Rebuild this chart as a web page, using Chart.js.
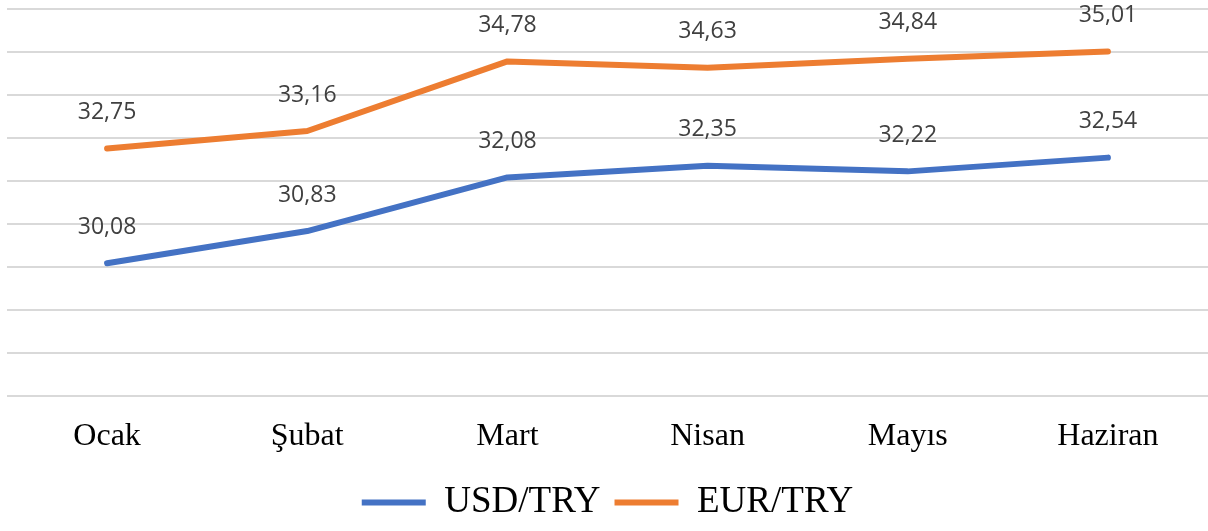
<!DOCTYPE html>
<html>
<head>
<meta charset="utf-8">
<script src="https://cdn.jsdelivr.net/npm/chart.js@4"></script>
<style>
  html, body { margin: 0; padding: 0; background: #fff; }
  #wrap { width: 1208px; height: 531px; }
</style>
</head>
<body>
<div id="wrap"><canvas id="kurChart"></canvas></div>
<script>
const months = ['Ocak', 'Şubat', 'Mart', 'Nisan', 'Mayıs', 'Haziran'];
const usdTry = [30.08, 30.83, 32.08, 32.35, 32.22, 32.54];
const eurTry = [32.75, 33.16, 34.78, 34.63, 34.84, 35.01];
const yMin = 27;
const yMax = 36;

// value labels above each point, Turkish decimal comma
const valueLabels = {
    id: 'valueLabels',
    afterDatasetsDraw(chart) {
        const c = chart.ctx;
        c.save();
        c.font = '23px "Open Sans"';
        c.fillStyle = '#404040';
        c.textAlign = 'center';
        c.textBaseline = 'middle';
        chart.data.datasets.forEach((ds, i) => {
            chart.getDatasetMeta(i).data.forEach((pt, j) => {
                c.fillText(ds.data[j].toFixed(2).replace('.', ','), pt.x, pt.y - 36);
            });
        });
        c.restore();
    }
};

new Chart(document.getElementById('kurChart'), {
    type: 'line',
    data: {
        labels: months,
        datasets: [
            {
                label: 'USD/TRY',
                data: usdTry,
                borderColor: '#4472C4',
                backgroundColor: '#4472C4',
                borderWidth: 6,
                borderCapStyle: 'round',
                borderJoinStyle: 'round',
                pointRadius: 0,
                tension: 0
            },
            {
                label: 'EUR/TRY',
                data: eurTry,
                borderColor: '#ED7D31',
                backgroundColor: '#ED7D31',
                borderWidth: 6,
                borderCapStyle: 'round',
                borderJoinStyle: 'round',
                pointRadius: 0,
                tension: 0
            }
        ]
    },
    options: {
        responsive: true,
        maintainAspectRatio: false,
        animation: false,
        layout: { padding: { left: 7, right: 0, top: 9, bottom: 0 } },
        plugins: {
            legend: {
                position: 'bottom',
                labels: {
                    usePointStyle: true,
                    pointStyle: 'line',
                    pointStyleWidth: 64,
                    color: '#000',
                    padding: 14,
                    font: { family: '"Liberation Serif"', size: 37 }
                }
            },
            tooltip: { enabled: false }
        },
        scales: {
            x: {
                offset: true,
                grid: { display: false },
                border: { display: false },
                ticks: {
                    color: '#000',
                    padding: 14,
                    font: { family: '"Liberation Serif"', size: 32 }
                }
            },
            y: {
                min: yMin,
                max: yMax,
                grid: { color: '#d9d9d9', lineWidth: 2, drawTicks: false },
                border: { display: false },
                ticks: { display: false, stepSize: 1 }
            }
        }
    },
    plugins: [valueLabels]
});
</script>
</body>
</html>
